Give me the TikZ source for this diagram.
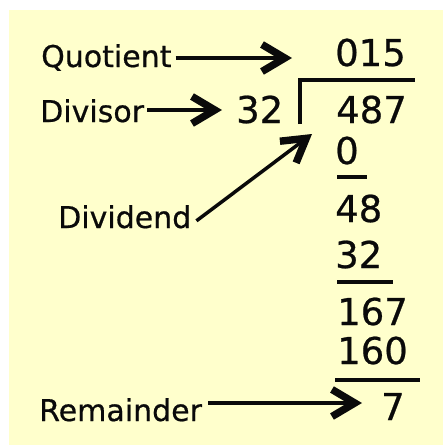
\documentclass[tikz,border=0pt]{standalone}
\usepackage{fontspec}
\setmainfont{DejaVu Sans}[FakeBold=0.4]
\newfontfamily\heavyfont{DejaVu Sans}[FakeBold=0.6]
\usetikzlibrary{arrows.meta}
\definecolor{bgyellow}{HTML}{FFFFCC}
\definecolor{ink}{HTML}{0A0A0A}
\begin{document}
\begin{tikzpicture}[x=1pt,y=-1pt,
  lbl/.style={inner sep=0pt,anchor=base west,text=ink,font=\heavyfont\fontsize{30}{30}\selectfont},
  num/.style={inner sep=0pt,anchor=base west,text=ink,font=\heavyfont\fontsize{37}{37}\selectfont},
  rule/.style={draw=ink,line width=3.5pt},
  arr/.style={draw=ink,line width=3.5pt,-{Straight Barb[length=0.8cm,width=0.95cm,line width=0.26cm]}}]
\useasboundingbox (0,0) rectangle (443,445);
\fill[bgyellow] (9,10) rectangle (443,445);
% labels
\node[lbl] (quot) at (41,67) {Quotient};
\node[lbl] (divs) at (40,122) {Divisor};
\node[lbl] (divd) at (58,228) {Dividend};
\node[lbl] (rem) at (39,421) {Remainder};
% numbers
\node[num] (q) at (335,66) {015};
\node[num] (dv) at (236,123) {32};
\node[num] (dd) at (336,123) {487};
\node[num] (s0) at (335,164) {0};
\node[num] (r48) at (335,222) {48};
\node[num] (s32) at (335,268) {32};
\node[num] (r167) at (337,325) {167};
\node[num] (s160) at (337,364) {160};
\node[num] (r7) at (381,420) {7};
% division bracket and rules
\draw[rule] (300,124) -- (300,80) -- (415,80);
\draw[rule] (337,177) -- (367,177);
\draw[rule] (337,282) -- (393,282);
\draw[rule] (335,380) -- (420,380);
% arrow end points
\coordinate (qtip) at (292,58);
\coordinate (dvtip) at (222,110);
\coordinate (ddtip) at (312,134);
\coordinate (rtip) at (362,403);
\draw[arr] ([xshift=4pt]quot.east |- qtip) -- (qtip);
\draw[arr] ([xshift=3pt]divs.east |- dvtip) -- (dvtip);
\draw[arr] ([xshift=5pt,yshift=-4pt]divd.east) -- (ddtip);
\draw[arr] ([xshift=6pt]rem.east |- rtip) -- (rtip);
\end{tikzpicture}
\end{document}
